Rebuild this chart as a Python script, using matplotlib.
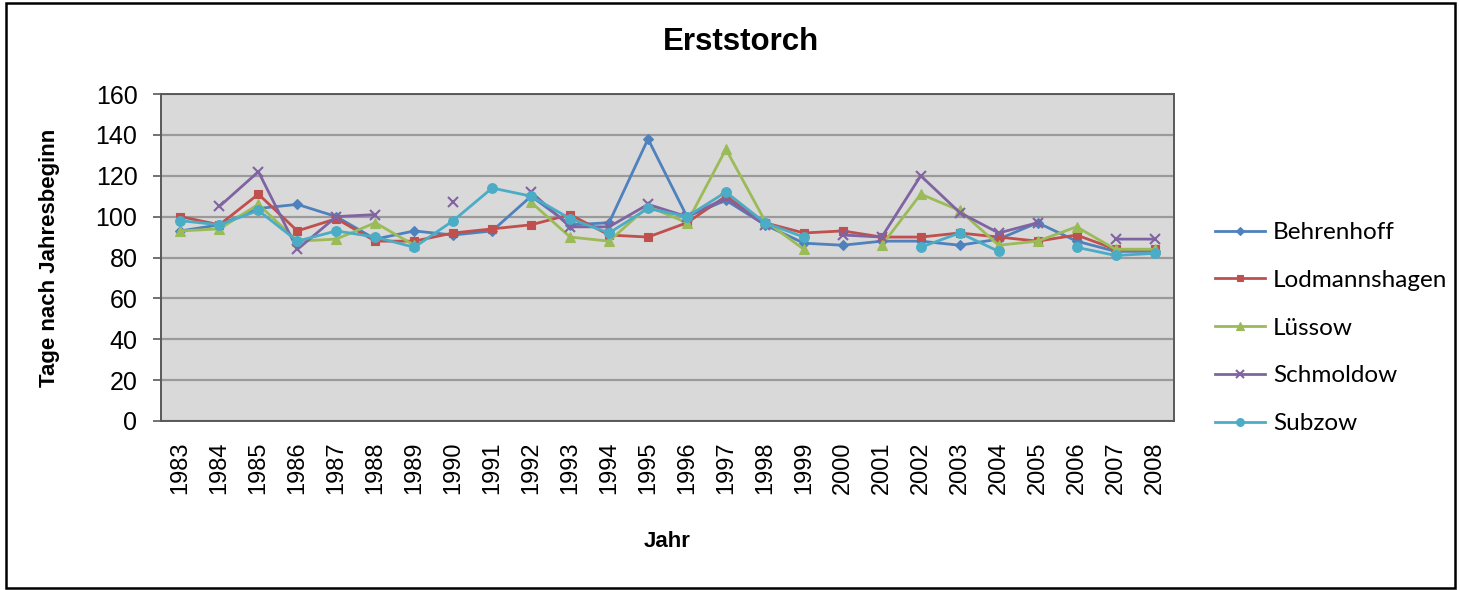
import numpy as np
import matplotlib
matplotlib.use("Agg")
import matplotlib.pyplot as plt
from matplotlib.patches import Rectangle

nan = np.nan

# ── Data ─────────────────────────────────────────────────────────────────────
years = [str(y) for y in range(1983, 2009)]

behrenhoff    = [93, 96, 104, 106, 100, 89, 93, 91, 93, 110, 96, 97, 138,
                 100, 108, 96, 87, 86, 88, 88, 86, 89, 97, 88, 83, 83]
lodmannshagen = [100, 96, 111, 93, 99, 88, 88, 92, 94, 96, 101, 91, 90,
                 97, 110, 97, 92, 93, 90, 90, 92, 90, 88, 91, 84, 84]
luessow       = [93, 94, 106, 88, 89, 97, 86, nan, nan, 107, 90, 88, 105,
                 97, 133, 98, 84, nan, 86, 111, 103, 86, 88, 95, 84, 84]
schmoldow     = [nan, 105, 122, 84, 100, 101, nan, 107, nan, 112, 95, 95, 106,
                 100, 109, 96, nan, 91, 90, 120, 102, 92, 97, nan, 89, 89]
subzow        = [98, 96, 103, 88, 93, 90, 85, 98, 114, 110, 99, 92, 104,
                 100, 112, 97, 90, nan, nan, 85, 92, 83, nan, 85, 81, 82]

series = [
    ("Behrenhoff",    behrenhoff,    "#4F81BD", "D", 5.5),
    ("Lodmannshagen", lodmannshagen, "#C0504D", "s", 5.5),
    ("Lüssow",        luessow,       "#9BBB59", "^", 6.5),
    ("Schmoldow",     schmoldow,     "#8064A2", "x", 7.5),
    ("Subzow",        subzow,        "#4BACC6", "o", 7.0),
]

# ── Figure ───────────────────────────────────────────────────────────────────
W, H = 1460, 590
fig = plt.figure(figsize=(W / 100, H / 100), dpi=100)
fig.patch.set_facecolor("white")

L, R, T, B = 161, 1174, 94, 421
ax = fig.add_axes([L / W, 1 - B / H, (R - L) / W, (B - T) / H])
ax.set_facecolor("#D9D9D9")

x = np.arange(len(years))
for name, vals, col, mk, ms in series:
    ax.plot(x, vals, color=col, lw=2.0, marker=mk, ms=ms,
            mew=1.5 if mk == "x" else 0.8, mec=col, mfc=col, label=name,
            zorder=3)

ax.set_xlim(-0.5, len(years) - 0.5)
ax.set_ylim(0, 160)
ax.set_yticks(range(0, 161, 20))
ax.set_xticks(x)
ax.set_xticklabels(years, rotation=90, fontsize=17, family="Liberation Sans")
for lbl in ax.get_yticklabels():
    lbl.set_fontsize(18)
    lbl.set_family("Liberation Sans")

ax.grid(axis="y", color="#9A9A9A", lw=1.6, zorder=1)
ax.set_axisbelow(True)
ax.tick_params(axis="x", length=0, pad=15)
ax.tick_params(axis="y", length=6, width=1.2, color="#595959", pad=11)
for sp in ax.spines.values():
    sp.set_color("#595959")
    sp.set_linewidth(1.4)

ax.set_ylabel("Tage nach Jahresbeginn", fontsize=16, fontweight="bold",
              family="Liberation Sans")
ax.yaxis.set_label_coords(-0.1, 0.5)
ax.set_xlabel("Jahr", fontsize=16, fontweight="bold", family="Liberation Sans")
ax.xaxis.set_label_coords(0.5, -0.37)
ax.xaxis.label.set_va("center")

fig.text(741 / W, 1 - 42 / H, "Erststorch", ha="center", va="center",
         fontsize=22.5, fontweight="bold", family="Liberation Sans")

leg = fig.legend(loc="upper left", bbox_to_anchor=(1215 / W, 1 - 222 / H),
                 frameon=False, handlelength=2.05, borderpad=0,
                 borderaxespad=0, labelspacing=1.1, handletextpad=0.33,
                 markerscale=0.8, prop={"family": "Lato", "size": 17.5})

# outer chart border
fig.add_artist(Rectangle((6 / W, 2 / H), 1449 / W, 585 / H,
                         transform=fig.transFigure, fill=False,
                         edgecolor="black", lw=1.8))

fig.savefig("out.png", dpi=100, facecolor="white")
